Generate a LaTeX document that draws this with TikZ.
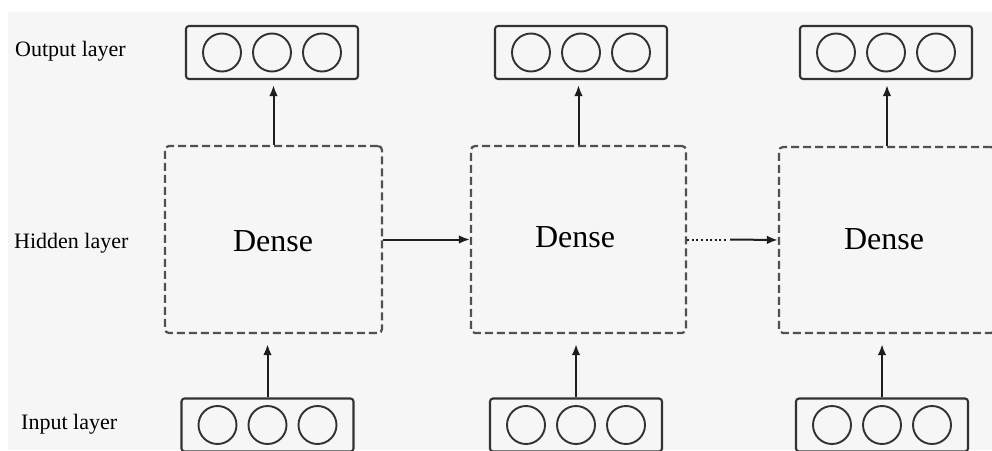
\documentclass[tikz,border=0pt]{standalone}
\usepackage{fontspec}
\setmainfont{Liberation Serif}
\usetikzlibrary{arrows.meta,calc}
\definecolor{bggray}{RGB}{246,246,246}
\definecolor{boxline}{RGB}{50,50,50}
\definecolor{dashline}{RGB}{80,80,80}
\definecolor{arrowcol}{RGB}{30,30,30}
\tikzset{
  layerbox/.style={draw=boxline, line width=2.1pt, rounded corners=3pt, rectangle,
    minimum width=172pt, minimum height=53pt, inner sep=0pt},
  neuron/.style={draw=boxline, line width=1.9pt, circle, minimum size=38pt, inner sep=0pt},
  densebox/.style={draw=dashline, line width=2.2pt, rounded corners=4pt, rectangle,
    dash pattern=on 8pt off 4pt, inner sep=0pt},
  arr/.style={draw=arrowcol, line width=2pt, -{Latex[length=11pt,width=8.5pt]}},
  sidelabel/.style={anchor=base west, inner sep=0pt, font=\fontsize{22}{26}\selectfont},
  densetext/.style={anchor=base, inner sep=0pt, font=\fontsize{32}{38}\selectfont},
}
\begin{document}
\begin{tikzpicture}[x=1pt,y=-1pt]
\clip (0,0) rectangle (992,450);
\fill[white] (0,0) rectangle (992,450);
\fill[bggray] (8,12) rectangle (992,450);

% side labels
\node[sidelabel] (lout) at (15,56) {Output layer};
\node[sidelabel] (lhid) at (14,248) {Hidden layer};
\node[sidelabel] (lin) at (21,429) {Input layer};

% output boxes
\foreach \n/\x in {1/272,2/581,3/886}{
  \node[layerbox] (O\n) at (\x,52.5) {};
  \node[neuron] (O\n a) at ($(O\n.center)+(-50,0)$) {};
  \node[neuron] (O\n b) at (O\n.center) {};
  \node[neuron] (O\n c) at ($(O\n.center)+(50,0)$) {};
}
% input boxes
\foreach \n/\x in {1/267.5,2/576,3/882}{
  \node[layerbox] (I\n) at (\x,425) {};
  \node[neuron] (I\n a) at ($(I\n.center)+(-50,0)$) {};
  \node[neuron] (I\n b) at (I\n.center) {};
  \node[neuron] (I\n c) at ($(I\n.center)+(50,0)$) {};
}
% dense boxes
\node[densebox, minimum width=217pt, minimum height=187pt] (D1) at (273.5,239.5) {};
\node[densebox, minimum width=215pt, minimum height=187pt] (D2) at (578.5,239.5) {};
\node[densebox, minimum width=216pt, minimum height=186pt] (D3) at (887,240) {};

\node[densetext] (t1) at (273,251) {Dense};
\node[densetext] (t2) at (575,247) {Dense};
\node[densetext] (t3) at (884,249) {Dense};

% vertical arrows
\foreach \n in {1,2,3}{
  \draw[arr, shorten >=5pt] (D\n.north) -- (D\n.north |- O\n.south);
  \draw[arr, shorten >=10pt] (I\n.north) -- (I\n.north |- D\n.south);
}
% horizontal arrows
\draw[arr] (D1.east) -- (D2.west);
\coordinate (dotend) at ($(D2.east)+(39,0)$);
\coordinate (solidstart) at ($(D2.east)+(43,0)$);
\draw[draw=arrowcol, line width=2pt, dash pattern=on 2pt off 2.6pt] (D2.east) -- (dotend);
\draw[arr] (solidstart) -- (D3.west);
\end{tikzpicture}
\end{document}
